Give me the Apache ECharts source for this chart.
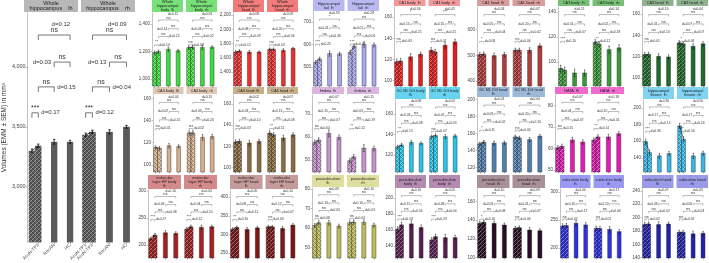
<!DOCTYPE html>
<html>
<head>
<meta charset="UTF-8">
<title>Hippocampal subfield volumes</title>
<script src="https://cdn.jsdelivr.net/npm/echarts@6.0.0/dist/echarts.min.js"></script>
<style>html,body{margin:0;padding:0;background:#fff;}</style>
</head>
<body>
<div id="main" style="width:709px;height:263px;"></div>
<script type="text/javascript">
var conditions = ['AcuN-TP1', 'AcuN-TP2', 'RecAN', 'HC'];
var xPos = [0.6, 1, 2, 3];

// whole hippocampus (big panel)
var wholeLh = [3300, 3342, 3375, 3375];
var wholeRh = [3433, 3458, 3458, 3500];
var wholeLhSem = [15, 14, 20, 13];
var wholeRhSem = [14, 14, 18, 12];
var wholeTicks = [3000, 3500, 4000];
var wholeRange = [2535, 4450];
var wholeLhD = [0.17, 0.15, 0.03, 0.12];
var wholeRhD = [0.12, 0.04, 0.13, 0.09];

// subfields, row by row
var regions = ['Whole\nhippocampal\nbody', 'Whole\nhippocampal\nhead', 'Hippocampal\ntail', 'CA1 body', 'CA1 head', 'CA3 body', 'CA3 head',
  'CA4 body', 'CA4 head', 'fimbria', 'GC ML DG body\n', 'GC ML DG head\n', 'HATA', 'hippocampal\nfissure',
  'molecular\nlayer HP body\n', 'molecular\nlayer HP head\n', 'parasubiculum\n', 'presubiculum\nbody', 'presubiculum\nhead', 'subiculum body\n', 'subiculum head\n'];

var lhMeans = [
  [1192, 1199, 1217, 1206], [1680, 1694, 1680, 1680], [520, 535, 559, 558], [117.8, 118.5, 122.5, 125],
  [503, 505, 499, 503], [95, 93.6, 91.4, 91.4], [121.9, 122.2, 120.3, 119.7],
  [115.7, 115, 117.3, 116.7], [124.2, 124.8, 123.3, 124.8], [57.7, 58.7, 61.6, 59.9], [128, 129.8, 132.4, 131.4],
  [148, 150, 148.7, 149.2], [60.3, 61, 64, 63], [159.6, 146.4, 142.4, 145.2],
  [212, 218.5, 222.8, 221.6], [314, 318.7, 313.4, 317.7], [61.2, 62.6, 62.6, 60.9], [160.9, 166.3, 167.5, 163],
  [136.7, 137.8, 136.7, 134.9], [239, 239.8, 244, 241], [189.6, 190.4, 189.6, 190.4]
];
var rhMeans = [
  [1228, 1232, 1230, 1232], [1717, 1717, 1703, 1730], [565, 592, 600, 598], [128.7, 127.2, 133.5, 136.6],
  [520, 520, 520, 537], [116, 114.4, 110, 111.4], [132.9, 132, 129.7, 132],
  [128.8, 128.8, 124.8, 125.5], [132.6, 131, 128, 131], [49.7, 51.4, 55.2, 55], [138, 139, 138, 138.7],
  [156, 154.8, 152.8, 156.9], [63.9, 65.4, 65.4, 66.9], [178.4, 162.4, 142.4, 145.6],
  [229.6, 233.9, 232.8, 233.9], [320.4, 320.4, 316, 325], [62.6, 62.9, 62.9, 61.4], [147.5, 151.6, 150.4, 150.4],
  [131.4, 132, 129.5, 128.8], [235, 234.5, 233, 229], [178, 178, 175.7, 176.5]
];
var lhSem = [
  [12, 12, 15, 10], [20, 18, 22, 15], [8, 8, 12, 8], [2.5, 2.5, 3, 2], [8, 8, 10, 8], [2.5, 2.5, 3, 2.5], [2, 2, 2.5, 2],
  [1.5, 1.5, 2, 1.5], [2, 2, 2.5, 2], [1, 1, 1.5, 1], [1.5, 1.5, 2, 1.5], [2, 2, 2.5, 2], [1, 1, 1.2, 1], [3, 3, 3, 2.5],
  [3, 3, 4, 3], [4, 4, 5, 4], [1, 1, 1.2, 1], [3, 3, 4, 3], [2, 2, 2.5, 2], [4, 4, 5, 4], [3, 3, 4, 3]
];
var rhSem = [
  [12, 14, 16, 10], [18, 18, 22, 15], [9, 10, 12, 9], [2.5, 2.5, 3, 2.5], [8, 8, 10, 8], [2, 2, 3, 2.5], [2, 2, 2.5, 2],
  [2, 2, 2.5, 2], [2, 2, 2.5, 2], [1, 1, 1.5, 1], [1.5, 1.5, 2, 1.5], [2, 2, 2.5, 2], [1, 1, 1.2, 1], [3, 3, 3, 2.5],
  [3, 3, 4, 3], [4, 4, 5, 4], [1, 1, 1.2, 1], [3, 3, 4, 3], [2, 2, 2.5, 2], [4, 4, 5, 4], [3, 3, 4, 3]
];
var yRanges = [[950, 1480], [1200, 2230], [414, 745], [95, 169.5], [381, 688], [81, 144], [92.5, 166.5],
  [93.6, 163], [96, 168.4], [44.8, 78.3], [103.4, 173.7], [115, 201.5], [49, 85], [123, 209.6],
  [176, 302], [237, 419], [44.5, 80.5], [125, 211], [99.5, 173.5], [182, 305], [139.5, 242.8]];
var yTicks = [[1000, 1200, 1400], [1400, 1600, 1800, 2000, 2200], [500, 600, 700], [100, 120, 140, 160], [400, 500, 600], [100, 120, 140], [100, 120, 140, 160],
  [100, 120, 140, 160], [100, 120, 140, 160], [50, 60, 70], [120, 140, 160], [120, 140, 160, 180, 200], [50, 60, 70, 80], [140, 160, 180, 200],
  [200, 250, 300], [250, 300, 350, 400], [50, 60, 70, 80], [140, 160, 180, 200], [100, 120, 140, 160], [200, 250, 300], [140, 160, 180, 200, 220, 240]];

// significance of TP1 vs TP2 and of TP2 vs HC, other comparisons ns
var lhSig1 = ['**', '**', '***', 'ns', '*', '***', 'ns', 'ns', 'ns', 'ns', '**', '*', 'ns', '***', '***', '**', 'ns', '***', '*', 'ns', 'ns'];
var rhSig1 = ['ns', 'ns', '***', 'ns', 'ns', '**', '*', 'ns', '**', '**', 'ns', 'ns', '**', '***', '***', 'ns', 'ns', '***', 'ns', 'ns', 'ns'];
var lhSig4 = ['ns', 'ns', '*', '*', 'ns', 'ns', 'ns', 'ns', 'ns', 'ns', 'ns', 'ns', 'ns', 'ns', 'ns', 'ns', 'ns', 'ns', 'ns', 'ns', 'ns'];
var rhSig4 = ['ns', 'ns', 'ns', '***', 'ns', 'ns', 'ns', 'ns', 'ns', 'ns', 'ns', 'ns', 'ns', 'ns', 'ns', 'ns', 'ns', 'ns', 'ns', 'ns', 'ns'];
var lhD = [
  [0.10, 0.22, 0.14, 0.12], [0.12, 0.09, 0.08, 0.08], [0.25, 0.36, 0.01, 0.33], [0.03, 0.21, 0.15, 0.36], [0.08, 0.04, 0.05, 0.03],
  [0.10, 0.07, 0.01, 0.11], [0.01, 0.10, 0.01, 0.10], [0.01, 0.15, 0.02, 0.04], [0.03, 0.10, 0.03, 0.02], [0.04, 0.07, 0.15, 0.07],
  [0.15, 0.08, 0.03, 0.08], [0.11, 0.02, 0.03, 0.01], [0.15, 0.07, 0.04, 0.07], [0.36, 0.15, 0.17, 0.30], [0.27, 0.08, 0.03, 0.10],
  [0.10, 0.12, 0.08, 0.05], [0.08, 0.05, 0.13, 0.09], [0.18, 0.04, 0.15, 0.10], [0.10, 0.08, 0.03, 0.10], [0.02, 0.17, 0.10, 0.04],
  [0.02, 0.02, 0.06, 0.07]
];
var rhD = [
  [0.08, 0.02, 0.03, 0.03], [0.03, 0.06, 0.20, 0.09], [0.30, 0.06, 0.01, 0.28], [0.07, 0.25, 0.15, 0.45], [0.06, 0.02, 0.20, 0.07],
  [0.12, 0.18, 0.02, 0.14], [0.06, 0.07, 0.07, 0.04], [0.02, 0.20, 0.03, 0.15], [0.11, 0.08, 0.13, 0.07], [0.12, 0.19, 0.03, 0.15],
  [0.07, 0.03, 0.02, 0.02], [0.04, 0.10, 0.20, 0.04], [0.14, 0.01, 0.10, 0.18], [0.56, 0.24, 0.17, 0.50], [0.12, 0.10, 0.04, 0.03],
  [0.03, 0.07, 0.12, 0.10], [0.04, 0.03, 0.10, 0.10], [0.23, 0.04, 0.08, 0.05], [0.06, 0.07, 0.01, 0.09], [0.01, 0.06, 0.10, 0.17],
  [0.02, 0.04, 0.06, 0.05]
];

var barColors = ['#3ddc3d', '#ee2f2f', '#a8a8ee', '#e81c1c', '#b23a3a', '#3a9a3a', '#1f6b2a',
  '#d6ae8c', '#8b6a3e', '#c691cc', '#22c4ea', '#4f7fb0', '#e01cb4', '#33b8ea',
  '#a52222', '#7d1616', '#bcbc5c', '#5a1c52', '#2a0c24', '#3030e6', '#2222b0'];
var stripColors = ['#77e077', '#f27b7b', '#b9b9f2', '#f29a9a', '#d99c9c', '#77c077', '#8fb38f',
  '#e0c8b4', '#c9b08c', '#dcb4e0', '#66d4f0', '#9bb8d8', '#f06ad0', '#7fd4f4',
  '#d48a8a', '#c49a9a', '#dede9e', '#b48ab0', '#a89098', '#9a9af4', '#9a9ae8'];

// layout of the small panels
var colRight = [217, 298, 379, 460, 545, 624, 708];
var axisX = [[152, 233, 313, 394, 477, 558, 642], [153, 233, 312, 395, 477, 555, 643], [148, 230, 312, 395, 477, 560, 642]];
var plotTop = [[13, 13, 12, 7, 7, 7, 7], [95, 95, 95, 100, 98, 95, 100], [190, 190, 188, 189, 189, 189, 189]];
var plotBottom = [86, 172, 258];
var headTop = [0, 87, 175];
var FONT = 'Liberation Sans, Arial, sans-serif';

var brackets = [[0.6, 1, 0.565, 0], [1, 2, 0.678, 1], [2, 3, 0.786, 2], [1, 3, 0.904, 3]];

function comma(v) {
  return String(v).replace(/\B(?=(\d{3})+(?!\d))/g, ',');
}

// hatch tile for the two AcuN bars
function makeHatch(color) {
  var c = document.createElement('canvas');
  c.width = 4; c.height = 4;
  var ctx = c.getContext('2d');
  ctx.fillStyle = color;
  ctx.fillRect(0, 0, 4, 4);
  ctx.lineWidth = 0.8;
  ctx.strokeStyle = 'rgba(255,255,255,0.45)';
  ctx.beginPath();
  ctx.moveTo(0, 4); ctx.lineTo(4, 0);
  ctx.moveTo(-1, 1); ctx.lineTo(1, -1);
  ctx.moveTo(3, 5); ctx.lineTo(5, 3);
  ctx.stroke();
  ctx.strokeStyle = 'rgba(0,0,0,0.35)';
  ctx.beginPath();
  ctx.moveTo(0, 0); ctx.lineTo(4, 4);
  ctx.moveTo(-1, 3); ctx.lineTo(1, 5);
  ctx.moveTo(3, -1); ctx.lineTo(5, 1);
  ctx.stroke();
  return c.toDataURL();
}

var grids = [], xAxes = [], yAxes = [], series = [], graphics = [];

function addFacet(f) {
  var gi = grids.length;
  grids.push({ left: f.left, top: f.plotY, width: f.width, height: f.plotH });
  xAxes.push({
    gridIndex: gi, type: 'value', min: 0.33, max: 3.5,
    axisLine: { show: false }, splitLine: { show: false },
    axisTick: { show: true, customValues: xPos, length: f.main ? 2 : 1.5, lineStyle: { color: '#888', width: 0.6 } },
    axisLabel: f.main ? {
      show: true, customValues: xPos, rotate: 45, fontSize: 4.5, color: '#444', margin: 2, fontFamily: FONT,
      formatter: function (v) {
        var best = 0;
        for (var i = 1; i < xPos.length; i++) if (Math.abs(xPos[i] - v) < Math.abs(xPos[best] - v)) best = i;
        return conditions[best];
      }
    } : { show: false }
  });
  var ya = {
    gridIndex: gi, type: 'value', min: f.min, max: f.max, show: f.showY,
    splitLine: { show: false },
    axisLine: { show: true, lineStyle: { color: '#999', width: 0.6 } },
    axisTick: { show: true, customValues: f.ticks, length: f.main ? 2 : 1.5, lineStyle: { color: '#999', width: 0.6 } },
    axisLabel: { customValues: f.ticks, fontSize: f.main ? 5.5 : 4.5, color: '#444', margin: 2, fontFamily: FONT,
      formatter: function (v) { return comma(v); } }
  };
  if (f.yName) {
    ya.name = f.yName; ya.nameLocation = 'middle'; ya.nameRotate = 90; ya.nameGap = 17;
    ya.nameTextStyle = { fontSize: 6.5, color: '#333', fontFamily: FONT };
  }
  yAxes.push(ya);

  var solid = f.color;
  var hatchUrl = makeHatch(f.color);
  var ymin = f.min;
  var fmain = f.main;
  var barData = [];
  for (var i = 0; i < 4; i++) barData.push([xPos[i], f.means[i], f.sems[i], i]);
  series.push({
    type: 'custom', xAxisIndex: gi, yAxisIndex: gi, silent: true, clip: false,
    encode: { x: 0, y: 1 },
    data: barData,
    renderItem: function (params, api) {
      var x = api.value(0), m = api.value(1), e = api.value(2), k = api.value(3);
      var tl = api.coord([x - 0.2, m]);
      var br = api.coord([x + 0.2, ymin]);
      var et = api.coord([x, m + e]), eb = api.coord([x, m - e]);
      var cap = api.size([0.07, 0])[0];
      var lw = fmain ? 0.8 : 0.5;
      return {
        type: 'group', children: [
          { type: 'rect', shape: { x: tl[0], y: tl[1], width: br[0] - tl[0], height: br[1] - tl[1] },
            style: { fill: k < 2 ? { image: hatchUrl, repeat: 'repeat' } : solid, stroke: fmain ? null : '#222', lineWidth: 0.4 } },
          { type: 'line', shape: { x1: et[0], y1: et[1], x2: eb[0], y2: eb[1] }, style: { stroke: '#111', lineWidth: lw } },
          { type: 'line', shape: { x1: et[0] - cap, y1: et[1], x2: et[0] + cap, y2: et[1] }, style: { stroke: '#111', lineWidth: lw } },
          { type: 'line', shape: { x1: eb[0] - cap, y1: eb[1], x2: eb[0] + cap, y2: eb[1] }, style: { stroke: '#111', lineWidth: lw } }
        ]
      };
    }
  });
  // line joining the two AcuN time points
  series.push({
    type: 'line', xAxisIndex: gi, yAxisIndex: gi, silent: true, symbol: 'none',
    lineStyle: { color: '#111', width: fmain ? 0.8 : 0.5 },
    data: [[xPos[0], f.means[0]], [xPos[1], f.means[1]]], z: 3
  });
  var fmin = f.min, fmax = f.max, sig1 = f.sig1, sig4 = f.sig4, dv = f.d;
  series.push({
    type: 'custom', xAxisIndex: gi, yAxisIndex: gi, silent: true, clip: false,
    data: brackets,
    renderItem: function (params, api) {
      var k = api.value(3);
      var yv = fmin + api.value(2) * (fmax - fmin);
      var p1 = api.coord([api.value(0), yv]);
      var p2 = api.coord([api.value(1), yv]);
      var h = fmain ? 5 : 1.8;
      var sigSize = fmain ? 7 : 4, dSize = fmain ? 6 : 3.3;
      var sig = k === 0 ? sig1 : (k === 3 ? sig4 : 'ns');
      var pad = fmain ? 3 : 1;
      var ds;
      if (k < 2) ds = { x: p2[0] + pad, y: p1[1], align: 'left', verticalAlign: 'middle' };
      else if (k === 2) ds = { x: p1[0] - pad, y: p1[1], align: 'right', verticalAlign: 'middle' };
      else ds = { x: p2[0], y: p1[1] - sigSize - (fmain ? 1 : 0.3), align: 'right', verticalAlign: 'bottom' };
      ds.text = 'd=' + dv[k].toFixed(2);
      ds.fontSize = dSize; ds.fill = '#333'; ds.fontFamily = FONT;
      return {
        type: 'group', children: [
          { type: 'polyline', shape: { points: [[p1[0], p1[1] + h], [p1[0], p1[1]], [p2[0], p2[1]], [p2[0], p2[1] + h]] },
            style: { stroke: '#555', lineWidth: fmain ? 0.8 : 0.4, fill: null } },
          { type: 'text', style: { text: sig, x: (p1[0] + p2[0]) / 2, y: p1[1] - (fmain ? 1.5 : 0.4), align: 'center', verticalAlign: 'bottom',
            fontSize: sigSize, fill: '#333', fontFamily: FONT } },
          { type: 'text', style: ds }
        ]
      };
    }
  });

  // facet strip
  graphics.push({ type: 'rect', silent: true, shape: { x: f.left, y: f.stripY, width: f.width, height: f.plotY - f.stripY - 1 }, style: { fill: f.strip } });
  graphics.push({ type: 'text', silent: true, style: {
    text: f.label, x: f.left + f.width / 2, y: (f.stripY + f.plotY - 1) / 2, align: 'center', verticalAlign: 'middle',
    fontSize: fmain ? 5.5 : 3.8, lineHeight: fmain ? 5.5 : 4, fill: '#222', fontFamily: FONT } });
}

function stripLabel(name, side) {
  return name.charAt(name.length - 1) === '\n' ? name + side : name + '  ' + side;
}

// big panel
addFacet({ main: true, left: 24, plotY: 13, width: 54, plotH: 230, min: wholeRange[0], max: wholeRange[1], ticks: wholeTicks,
  showY: true, yName: 'Volumes (EMM \u00b1 SEM) in mm\u00b3', means: wholeLh, sems: wholeLhSem, color: '#5b5b5b', strip: '#b8b8b8',
  stripY: 0, label: 'Whole\nhippocampus    lh', sig1: '***', sig4: 'ns', d: wholeLhD });
addFacet({ main: true, left: 81, plotY: 13, width: 54, plotH: 230, min: wholeRange[0], max: wholeRange[1], ticks: wholeTicks,
  showY: false, means: wholeRh, sems: wholeRhSem, color: '#5b5b5b', strip: '#b8b8b8',
  stripY: 0, label: 'Whole\nhippocampus    rh', sig1: '***', sig4: 'ns', d: wholeRhD });

(function () {
  for (var g = 0; g < regions.length; g++) {
    var row = Math.floor(g / 7), col = g % 7;
    var ax = axisX[row][col];
    var gap = 3;
    var w = (colRight[col] - ax - gap) / 2;
    var py = plotTop[row][col];
    var ph = plotBottom[row] - py;
    addFacet({ plotY: py, width: w, plotH: ph, min: yRanges[g][0], max: yRanges[g][1], ticks: yTicks[g],
      color: barColors[g], strip: stripColors[g], stripY: headTop[row],
      left: ax, showY: true, means: lhMeans[g], sems: lhSem[g],
      label: stripLabel(regions[g], 'lh'), sig1: lhSig1[g], sig4: lhSig4[g], d: lhD[g] });
    addFacet({ plotY: py, width: w, plotH: ph, min: yRanges[g][0], max: yRanges[g][1], ticks: yTicks[g],
      color: barColors[g], strip: stripColors[g], stripY: headTop[row],
      left: ax + w + gap, showY: false, means: rhMeans[g], sems: rhSem[g],
      label: stripLabel(regions[g], 'rh'), sig1: rhSig1[g], sig4: rhSig4[g], d: rhD[g] });
  }
})();

var myChart = echarts.init(document.getElementById('main'));
myChart.setOption({
  backgroundColor: '#fff',
  animation: false,
  textStyle: { fontFamily: FONT },
  grid: grids,
  xAxis: xAxes,
  yAxis: yAxes,
  series: series,
  graphic: graphics
});
</script>
</body>
</html>
